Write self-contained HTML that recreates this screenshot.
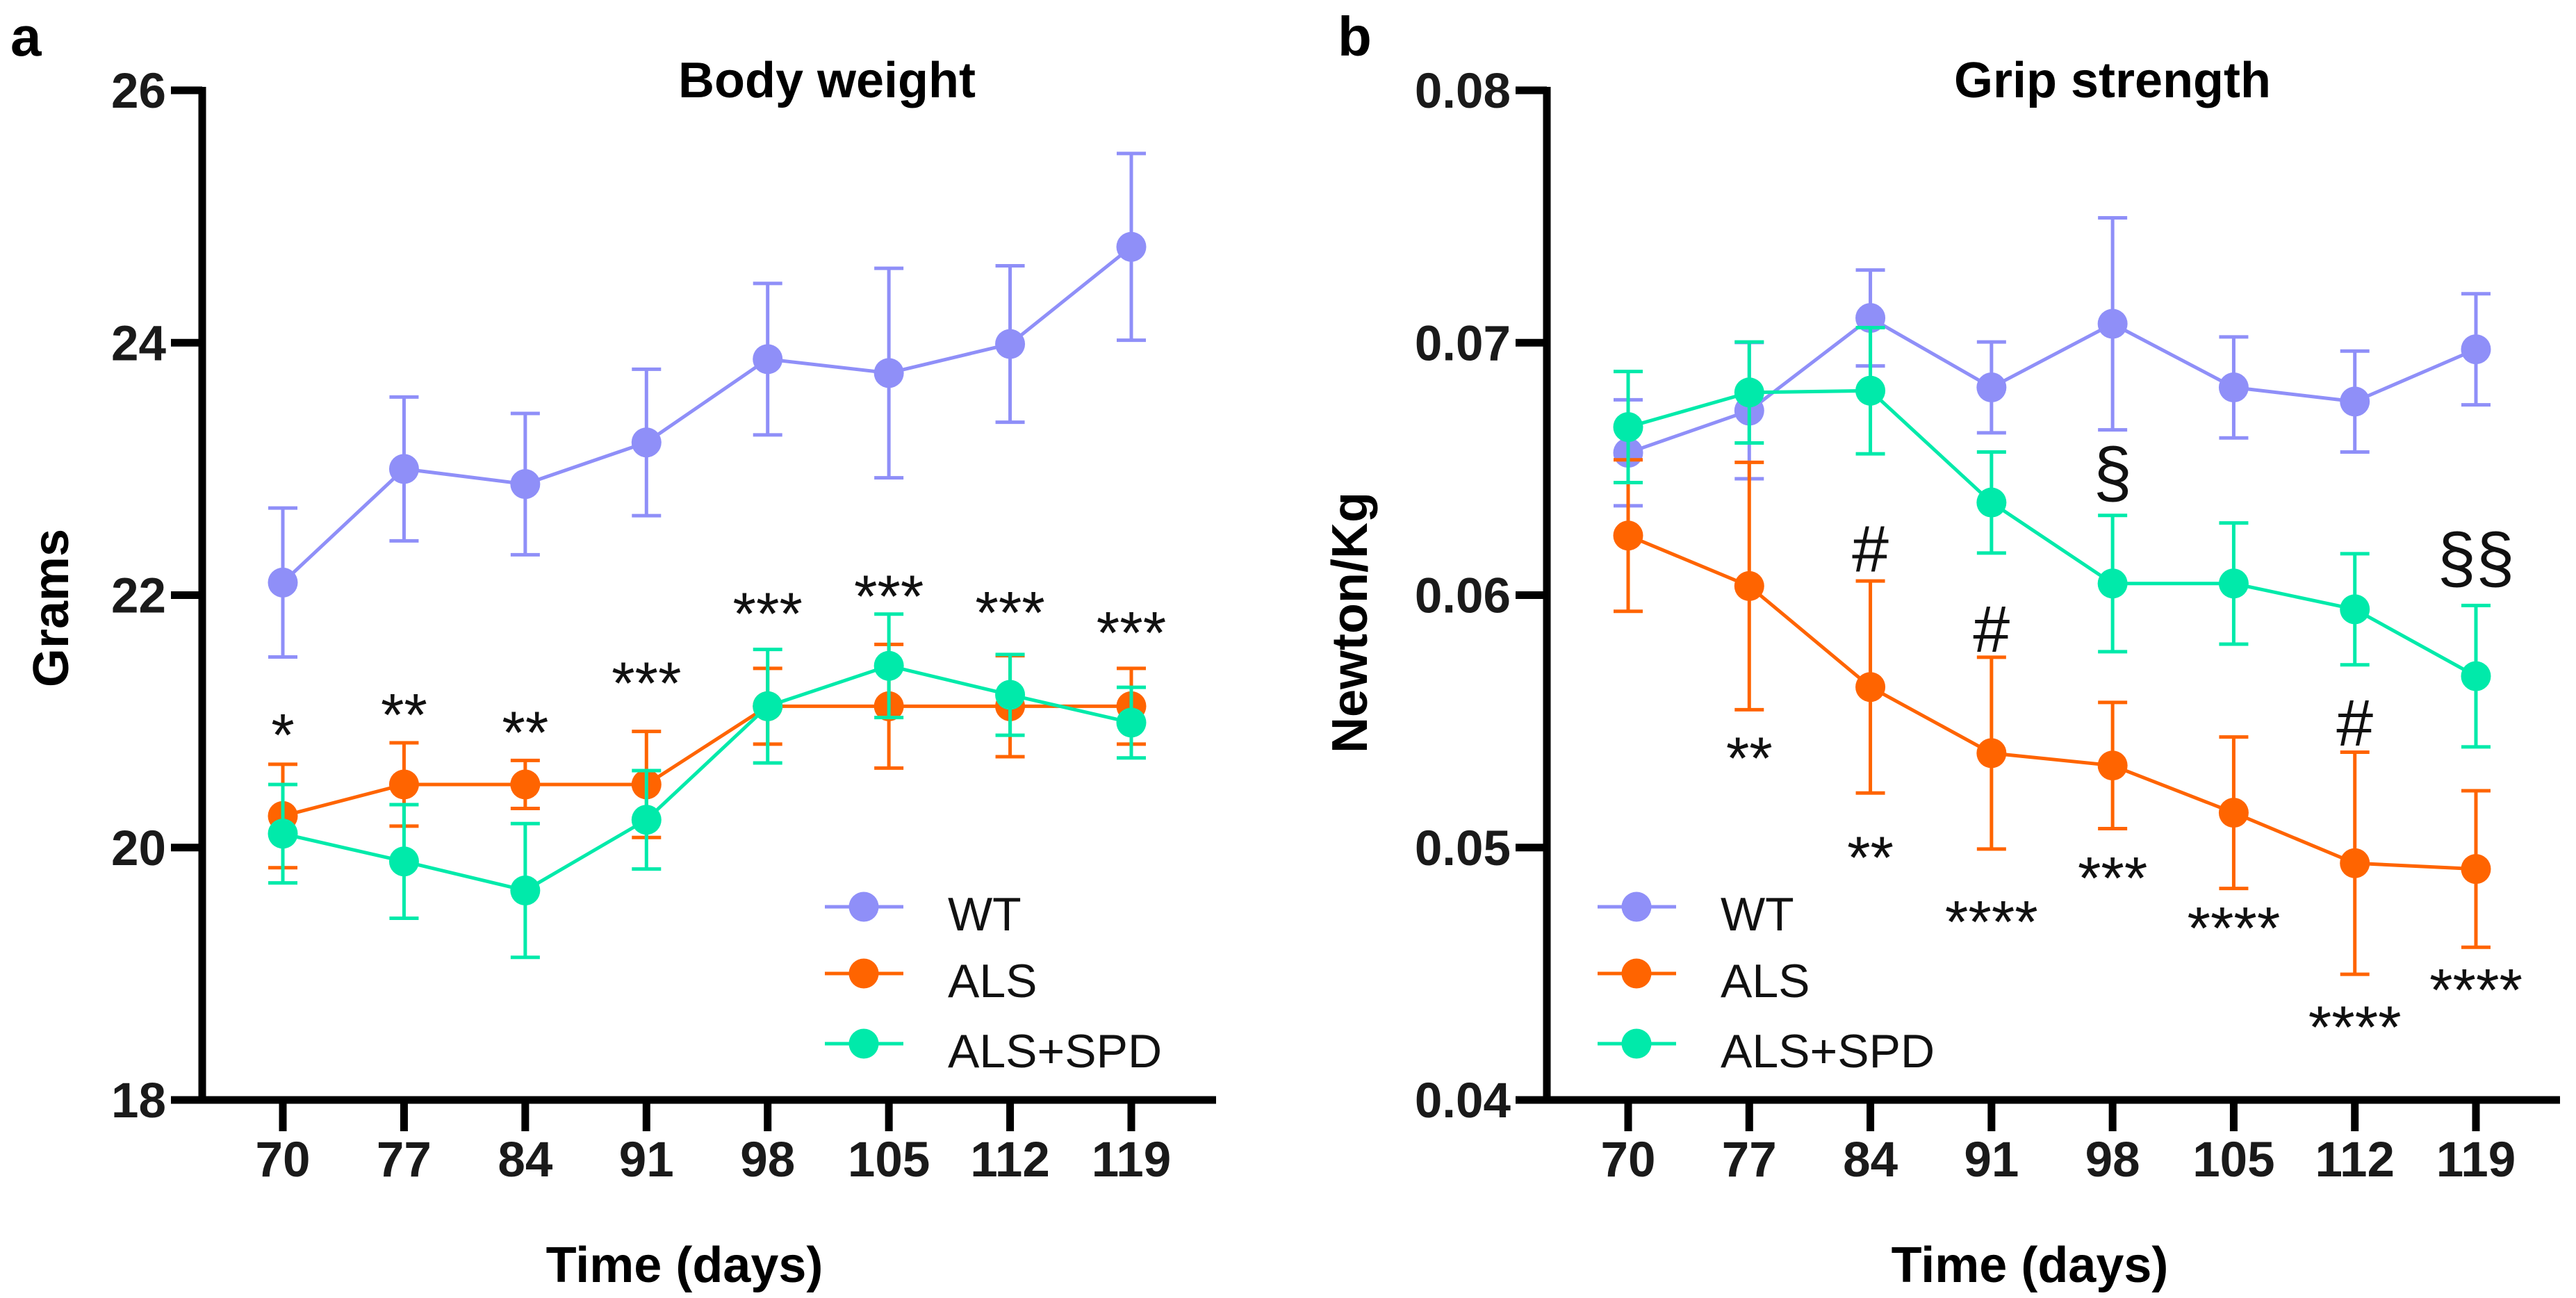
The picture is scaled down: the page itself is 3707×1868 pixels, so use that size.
<!DOCTYPE html>
<html><head><meta charset="utf-8"><style>
html,body{margin:0;padding:0;background:#fff;}
svg{display:block;font-family:"Liberation Sans",Arial,sans-serif;}
</style></head><body>
<svg id="fig" width="3707" height="1868" viewBox="0 0 3707 1868" xmlns="http://www.w3.org/2000/svg"></svg>
<script>
// ---- shared data ----
const days = [70,77,84,91,98,105,112,119];
const seriesNames = ["WT","ALS","ALS+SPD"];
const seriesColors = ["#8f8ff8","#ff6400","#00eaaa"];

// Panel a: body weight (grams)
const bwWT     = [22.10,23.00,22.88,23.21,23.87,23.76,23.99,24.76];
const bwWTerr  = [0.59,0.57,0.56,0.58,0.60,0.83,0.62,0.74];
const bwALS    = [20.25,20.50,20.50,20.50,21.12,21.12,21.12,21.12];
const bwALSerr = [0.41,0.33,0.19,0.42,0.30,0.49,0.40,0.30];
const bwSPD    = [20.11,19.89,19.66,20.22,21.12,21.44,21.21,20.99];
const bwSPDerr = [0.39,0.45,0.53,0.39,0.45,0.41,0.32,0.28];
const bwYTicks = [18,20,22,24,26];
const bwSigLabels = ["*","**","**","***","***","***","***","***"];
const bwSigPos    = [20.97,21.13,20.99,21.38,21.93,22.07,21.94,21.78];

// Panel b: grip strength (N/kg)
const gsWT     = [0.06564,0.06731,0.07098,0.06823,0.07075,0.06823,0.06767,0.06974];
const gsWTerr  = [0.0021,0.0027,0.0019,0.0018,0.0042,0.0020,0.0020,0.0022];
const gsALS    = [0.06236,0.06036,0.05636,0.05374,0.05325,0.05138,0.04938,0.04915];
const gsALSerr = [0.0030,0.0049,0.0042,0.0038,0.0025,0.0030,0.0044,0.0031];
const gsSPD    = [0.06666,0.06803,0.06810,0.06367,0.06046,0.06046,0.05944,0.05679];
const gsSPDerr = [0.0022,0.0020,0.0025,0.0020,0.0027,0.0024,0.0022,0.0028];
const gsYTicks = [0.04,0.05,0.06,0.07,0.08];
const gsStarDays   = [77,84,91,98,105,112,119];
const gsStarLabels = ["**","**","****","***","****","****","****"];
const gsStarPos    = [0.05393,0.0500,0.04744,0.04918,0.0472,0.04328,0.04475];
const gsHashDays   = [84,91,112];
const gsHashPos    = [0.06187,0.05869,0.05498];
const gsSectDays   = [98,119];
const gsSectLabels = ["§","§§"];
const gsSectPos    = [0.06469,0.06131];

const NS="http://www.w3.org/2000/svg";
const svg=document.getElementById('fig');
function mk(tag,attrs,parent,text){
  const e=document.createElementNS(NS,tag);
  for(const k in attrs) e.setAttribute(k,attrs[k]);
  if(text!==undefined) e.textContent=text;
  (parent||svg).appendChild(e);
  return e;
}

function panel(cfg){
  const g=mk('g',{});
  
  
  const x0=cfg.x0, yTop=130, yBot=1583;
  const xs=d=>cfg.x70+(d-70)*(cfg.x119-cfg.x70)/49;
  const ys=v=>yBot-(v-cfg.ymin)/(cfg.ymax-cfg.ymin)*(yBot-yTop);
  const ya=mk('line',{x1:x0,y1:yTop-5,x2:x0,y2:yBot+5,stroke:'#000','stroke-width':11},g);
  
  
  const xa=mk('line',{x1:x0-5,y1:yBot,x2:cfg.xEnd,y2:yBot,stroke:'#000','stroke-width':11},g);
  
  
  cfg.yticks.forEach(t=>{
    const y=ys(t);
    mk('line',{x1:x0-45,y1:y,x2:x0,y2:y,stroke:'#000','stroke-width':11},g);
    const tl=mk('text',{x:x0-52,y:y+25,'text-anchor':'end','font-size':71,'font-weight':'bold',fill:'#1a1a1a'},g,cfg.fmt(t));
    
    
  });
  days.forEach(d=>{
    const x=xs(d);
    mk('line',{x1:x,y1:yBot,x2:x,y2:1628,stroke:'#000','stroke-width':11},g);
    const tl=mk('text',{x:x,y:1693,'text-anchor':'middle','font-size':71,'font-weight':'bold',fill:'#1a1a1a'},g,String(d));
    
    
  });
  const t=mk('text',{x:cfg.titleX,y:140,'text-anchor':'middle','font-size':72,'font-weight':'bold'},g,cfg.title);
  
  
  const xt=mk('text',{x:cfg.xTitleX,y:1845,'text-anchor':'middle','font-size':72,'font-weight':'bold'},g,'Time (days)');
  
  
  const yt=mk('text',{x:0,y:0,'text-anchor':'middle','font-size':72,'font-weight':'bold',transform:`translate(${cfg.yTitleX},${cfg.yTitleY}) rotate(-90)`},g,cfg.yTitle);
  
  
  const pl=mk('text',{x:cfg.letterX,y:80,'font-size':80,'font-weight':'bold'},g,cfg.letter);
  
  
  cfg.series.forEach((s,i)=>{
    const sg=mk('g',{},g);
    
    
    const col=seriesColors[i];
    s.v.forEach((v,j)=>{
      const x=xs(days[j]), y1=ys(v+s.e[j]), y2=ys(v-s.e[j]);
      const eb=mk('path',{d:`M${x},${y1}V${y2}M${x-21},${y1}H${x+21}M${x-21},${y2}H${x+21}`,stroke:col,'stroke-width':5,fill:'none'},sg);
      
      
    });
    const pts=s.v.map((v,j)=>xs(days[j])+','+ys(v)).join(' ');
    const ln=mk('polyline',{points:pts,stroke:col,'stroke-width':5,fill:'none'},sg);
    
    
    s.v.forEach((v,j)=>{
      const c=mk('circle',{cx:xs(days[j]),cy:ys(v),r:21.5,fill:col},sg);
      
      
    });
  });
  cfg.ann.forEach(a=>{
    a.days.forEach((d,j)=>{
      const txt=a.labels?a.labels[j]:a.label;
      const e=mk('text',{x:xs(d),y:ys(a.pos[j])+a.off,'text-anchor':'middle','font-size':a.fs,fill:'#111'},g,txt);
      
      
    });
  });
  const lg=mk('g',{},g);
  
  
  const rows=[1305,1401,1502];
  seriesNames.forEach((n,i)=>{
    const eg=mk('g',{},lg);
    
    
    mk('line',{x1:cfg.legX-56,y1:rows[i],x2:cfg.legX+57,y2:rows[i],stroke:seriesColors[i],'stroke-width':5},eg);
    mk('circle',{cx:cfg.legX,cy:rows[i],r:21.5,fill:seriesColors[i]},eg);
    mk('text',{x:cfg.legTextX,y:rows[i]+34,'font-size':68,fill:'#111'},eg,n);
  });
}

panel({name:'body-weight-panel',letter:'a',letterX:15,x0:291,x70:407,x119:1628,xEnd:1750,ymin:18,ymax:26,
  yticks:bwYTicks,fmt:t=>String(t),title:'Body weight',titleX:1190,xTitleX:985,yTitle:'Grams',yTitleX:98,yTitleY:875,
  series:[{v:bwWT,e:bwWTerr},{v:bwALS,e:bwALSerr},{v:bwSPD,e:bwSPDerr}],
  ann:[{days:days,labels:bwSigLabels,pos:bwSigPos,off:44,fs:86}],
  legX:1243,legTextX:1364});

panel({name:'grip-strength-panel',letter:'b',letterX:1925,x0:2226,x70:2343,x119:3563,xEnd:3684,ymin:0.04,ymax:0.08,
  yticks:gsYTicks,fmt:t=>t.toFixed(2),title:'Grip strength',titleX:3040,xTitleX:2921,yTitle:'Newton/Kg',yTitleX:1967,yTitleY:896,
  series:[{v:gsWT,e:gsWTerr},{v:gsALS,e:gsALSerr},{v:gsSPD,e:gsSPDerr}],
  ann:[{days:gsStarDays,labels:gsStarLabels,pos:gsStarPos,off:44,fs:86},
       {days:gsHashDays,label:'#',pos:gsHashPos,off:34,fs:95},
       {days:gsSectDays,labels:gsSectLabels,pos:gsSectPos,off:28,fs:100}],
  legX:2355,legTextX:2476});
</script>
</body></html>
